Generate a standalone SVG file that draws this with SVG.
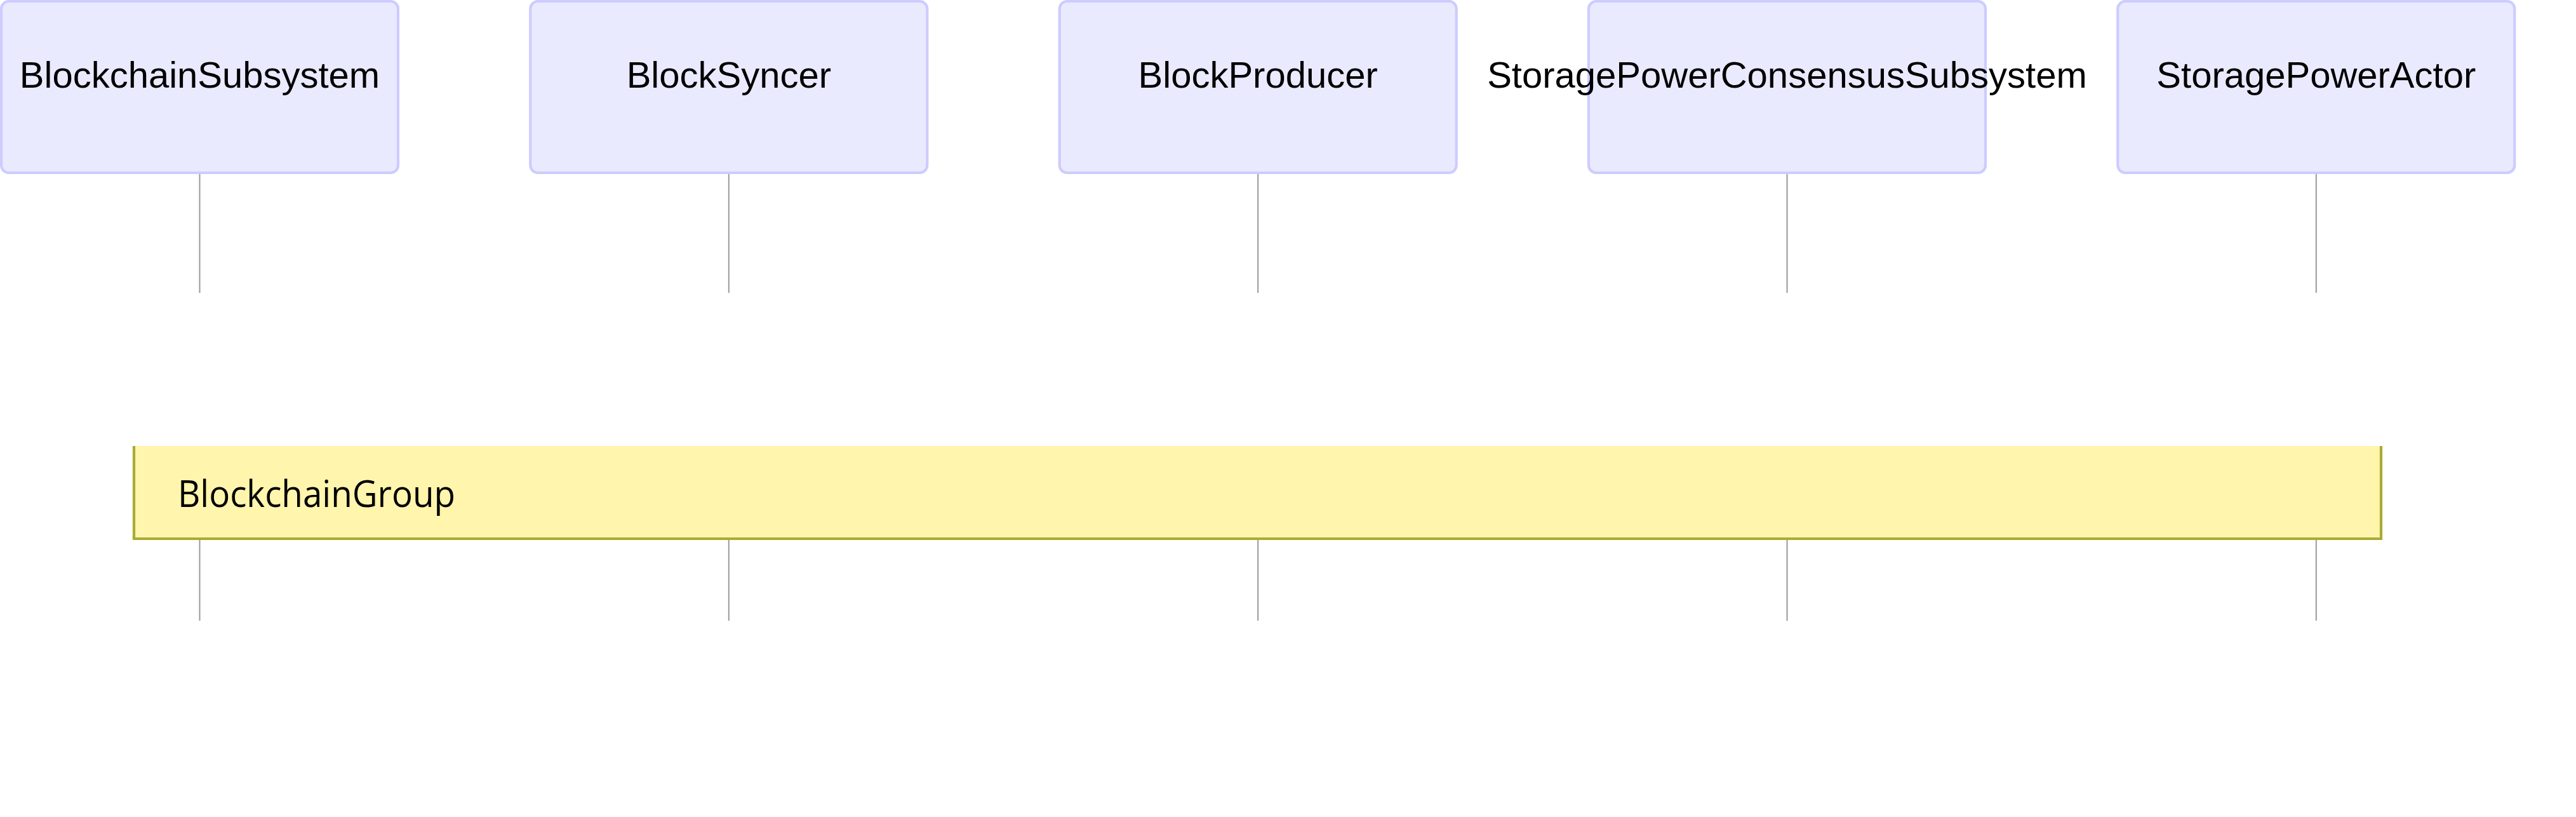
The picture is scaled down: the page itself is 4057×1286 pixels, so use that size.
<svg xmlns="http://www.w3.org/2000/svg" width="4057" height="1286" viewBox="0 0 4057 1286">
<style>
.actor{fill:#eaeaff;stroke:#ccccff;stroke-width:4.2}
.atext{font-family:"Liberation Sans",Arial,sans-serif;font-size:58px;fill:#000;text-anchor:middle}
.life{stroke:#999;stroke-width:2;fill:none}
.notefill{fill:#fff5ad;stroke:none}
.noteedge{fill:none;stroke:#aaaa33;stroke-width:4.2}
.ntext{font-family:"Open Sans","DejaVu Sans",sans-serif;font-size:58px;fill:#000}
</style>
<rect width="4057" height="1286" fill="#ffffff"/>
<g id="connectors">
<line class="life" x1="314.5" y1="272" x2="314.5" y2="461"/>
<line class="life" x1="1147.8" y1="272" x2="1147.8" y2="461"/>
<line class="life" x1="1981.2" y1="272" x2="1981.2" y2="461"/>
<line class="life" x1="2814.5" y1="272" x2="2814.5" y2="461"/>
<line class="life" x1="3647.8" y1="272" x2="3647.8" y2="461"/>
<line class="life" x1="314.5" y1="848" x2="314.5" y2="977"/>
<line class="life" x1="1147.8" y1="848" x2="1147.8" y2="977"/>
<line class="life" x1="1981.2" y1="848" x2="1981.2" y2="977"/>
<line class="life" x1="2814.5" y1="848" x2="2814.5" y2="977"/>
<line class="life" x1="3647.8" y1="848" x2="3647.8" y2="977"/>
</g>
<g id="BlockchainSubsystem">
<rect class="actor" x="2" y="2" width="625" height="270" rx="12" ry="12"/>
<text class="atext" x="314.5" y="138">BlockchainSubsystem</text>
</g>
<g id="BlockSyncer">
<rect class="actor" x="835.3" y="2" width="625" height="270" rx="12" ry="12"/>
<text class="atext" x="1147.8" y="138">BlockSyncer</text>
</g>
<g id="BlockProducer">
<rect class="actor" x="1668.7" y="2" width="625" height="270" rx="12" ry="12"/>
<text class="atext" x="1981.2" y="138">BlockProducer</text>
</g>
<g id="StoragePowerConsensusSubsystem">
<rect class="actor" x="2502" y="2" width="625" height="270" rx="12" ry="12"/>
<text class="atext" x="2814.5" y="138">StoragePowerConsensusSubsystem</text>
</g>
<g id="StoragePowerActor">
<rect class="actor" x="3335.3" y="2" width="625" height="270" rx="12" ry="12"/>
<text class="atext" x="3647.8" y="138">StoragePowerActor</text>
</g>
<g id="BlockchainGroup">
<rect class="notefill" x="211" y="702" width="3539" height="146"/>
<path class="noteedge" d="M211,702 V848 H3750 V702"/>
<text class="ntext" x="280" y="798" textLength="437" lengthAdjust="spacingAndGlyphs">BlockchainGroup</text>
</g>
</svg>
